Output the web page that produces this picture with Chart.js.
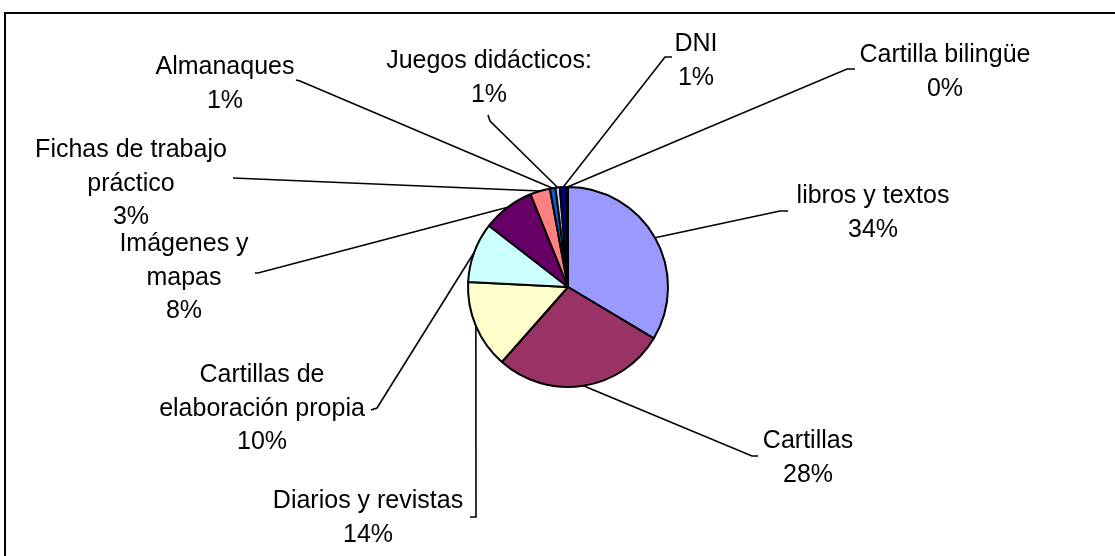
<!DOCTYPE html>
<html>
<head>
<meta charset="utf-8">
<script src="https://cdn.jsdelivr.net/npm/chart.js@4"></script>
<style>
  html, body { margin: 0; padding: 0; background: #fff; }
  #wrap { width: 1115px; height: 556px; }
</style>
</head>
<body>
<div id="wrap"><canvas id="pie" width="1115" height="556"></canvas></div>
<script>
// Slice names (line breaks as in the chart labels)
const categories = [
  ["libros y textos"],
  ["Cartillas"],
  ["Diarios y revistas"],
  ["Cartillas de", "elaboración propia"],
  ["Imágenes y", "mapas"],
  ["Fichas de trabajo", "práctico"],
  ["Almanaques"],
  ["Juegos didácticos:"],
  ["DNI"],
  ["Cartilla bilingüe"],
];

// Share of each material (%)
const shares = [33.6, 27.9, 14.3, 9.7, 8.4, 3.2, 0.9, 0.7, 1.1, 0.2];

const sliceColors = [
  "#9999FF", "#993366", "#FFFFCC", "#CCFFFF", "#660066",
  "#FF8080", "#0066CC", "#CCCCFF", "#000080", "#FF00FF",
];

// Where each data label sits: text centre x, first baseline, leader knee and tip
const labelLayout = [
  { cx: 873, y: 203, knee: [780, 211], tip: [788, 211] },
  { cx: 808, y: 448, knee: [752, 456], tip: [758, 456] },
  { cx: 368, y: 508, knee: [476, 517], tip: [470, 517] },
  { cx: 262, y: 382, knee: [377, 408], tip: [371, 410] },
  { cx: 184, y: 251, knee: [258, 273], tip: [255, 273] },
  { cx: 131, y: 157, knee: [233, 178], tip: [233, 178] },
  { cx: 225, y: 74, knee: [300, 81], tip: [296, 80] },
  { cx: 489, y: 68, knee: [490, 121], tip: [488, 115] },
  { cx: 696, y: 51, knee: [665, 57], tip: [672, 57] },
  { cx: 945, y: 62, knee: [847, 69], tip: [855, 69] },
];

const LINE_GAP = 33.5;
const FONT = '25px "Liberation Sans", Arial, sans-serif';

function percentText(i) {
  const total = shares.reduce((a, b) => a + b, 0);
  return `${Math.round((shares[i] / total) * 100)}%`;
}

const frame = {
  id: "frame",
  beforeDraw(chart) {
    const ctx = chart.ctx;
    ctx.save();
    ctx.fillStyle = "#fff";
    ctx.fillRect(0, 0, chart.width, chart.height);
    ctx.strokeStyle = "#000";
    ctx.lineWidth = 2;
    ctx.strokeRect(5, 13, chart.width + 20, chart.height + 20);
    ctx.restore();
  },
};

const leaderLabels = {
  id: "leaderLabels",
  afterDatasetsDraw(chart) {
    const ctx = chart.ctx;
    const arcs = chart.getDatasetMeta(0).data;
    ctx.save();
    ctx.strokeStyle = "#000";
    ctx.lineWidth = 1.6;
    arcs.forEach((arc, i) => {
      const p = arc.getProps(["x", "y", "startAngle", "endAngle", "outerRadius"], true);
      const mid = (p.startAngle + p.endAngle) / 2;
      const ex = p.x + Math.cos(mid) * p.outerRadius;
      const ey = p.y + Math.sin(mid) * p.outerRadius;
      const lay = labelLayout[i];
      ctx.beginPath();
      ctx.moveTo(lay.tip[0], lay.tip[1]);
      ctx.lineTo(lay.knee[0], lay.knee[1]);
      ctx.lineTo(ex, ey);
      ctx.stroke();
    });
    ctx.fillStyle = "#000";
    ctx.font = FONT;
    ctx.textAlign = "center";
    ctx.textBaseline = "alphabetic";
    categories.forEach((lines, i) => {
      const lay = labelLayout[i];
      const all = lines.concat([percentText(i)]);
      all.forEach((t, k) => ctx.fillText(t, lay.cx, lay.y + k * LINE_GAP));
    });
    ctx.restore();
  },
};

new Chart(document.getElementById("pie"), {
  type: "pie",
  data: {
    labels: categories.map((c) => c.join(" ")),
    datasets: [
      {
        data: shares,
        backgroundColor: sliceColors,
        borderColor: "#000",
        borderWidth: 2,
        radius: 100,
      },
    ],
  },
  options: {
    responsive: false,
    animation: false,
    layout: { padding: { left: 21, right: 0, top: 18, bottom: 0 } },
    plugins: {
      legend: { display: false },
      tooltip: { enabled: false },
    },
  },
  plugins: [frame, leaderLabels],
});
</script>
</body>
</html>
